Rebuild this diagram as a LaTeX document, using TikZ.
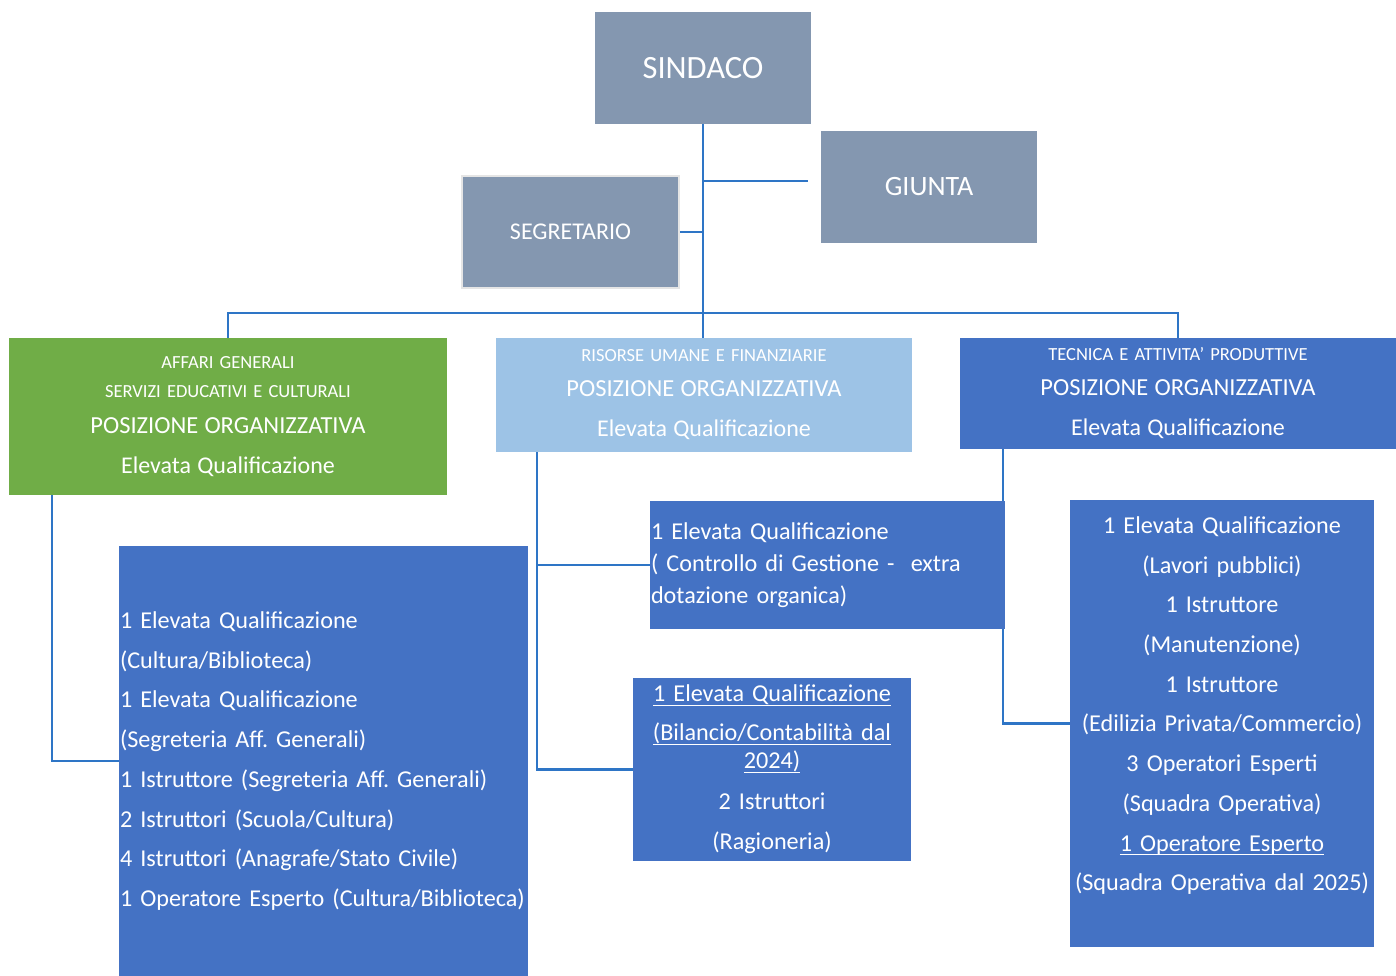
\documentclass[tikz,border=0pt]{standalone}
\usepackage{fontspec}
\setmainfont{Carlito}
\usetikzlibrary{positioning, backgrounds, calc}
\definecolor{headGray}{RGB}{132,151,176}
\definecolor{areaGreen}{RGB}{112,173,71}
\definecolor{areaLight}{RGB}{157,195,230}
\definecolor{areaBlue}{RGB}{68,114,196}
\definecolor{lineBlue}{RGB}{46,117,198}
\newcommand{\smallHead}{\fontsize{18.5}{29}\selectfont}
\newcommand{\bodyText}{\fontsize{24.2}{39.7}\selectfont}
\newcommand{\underText}[1]{\leavevmode{\setbox0\hbox{#1}\rlap{\rule[-4pt]{\wd0}{1.3pt}}\box0}}
\frenchspacing

\begin{document}
\begin{tikzpicture}[x=1pt, y=-1pt,
    box/.style={rectangle, inner sep=0pt, text=white},
    link/.style={lineBlue, line width=2.5pt}]
  \useasboundingbox (0,0) rectangle (1396,976);
  % vertici
  \node[box, fill=headGray, minimum width=216pt, minimum height=112pt, font=\fontsize{32.5}{39}\selectfont] (sindaco) at (703,68) {SINDACO};
  \node[box, fill=headGray, minimum width=216pt, minimum height=112pt, font=\fontsize{28}{34}\selectfont] (giunta) at (929,187) {GIUNTA};
  \node[box, fill=headGray, draw=gray!20, line width=1.5pt, minimum width=217pt, minimum height=112pt, font=\fontsize{24}{30}\selectfont] (segretario) at (570.5,232) {SEGRETARIO};
  % aree
  \node[box, fill=areaGreen, minimum width=438pt, minimum height=157pt, text width=430pt, align=center, font=\smallHead] (ag) at (228,416.5)
    {AFFARI GENERALI\\ SERVIZI EDUCATIVI E CULTURALI\\[7pt] {\fontsize{24.5}{29}\selectfont POSIZIONE ORGANIZZATIVA}\\[11pt] {\fontsize{24}{29}\selectfont Elevata Qualificazione}};
  \node[box, fill=areaLight, minimum width=416pt, minimum height=114pt, text width=410pt, align=center, font=\smallHead] (rum) at (704,395)
    {RISORSE UMANE E FINANZIARIE\\[6pt] {\fontsize{24.5}{29}\selectfont POSIZIONE ORGANIZZATIVA}\\[11pt] {\fontsize{24}{29}\selectfont Elevata Qualificazione}};
  \node[box, fill=areaBlue, minimum width=436pt, minimum height=111pt, text width=430pt, align=center, font=\smallHead] (tec) at (1178,393.5)
    {TECNICA E ATTIVITA’ PRODUTTIVE\\[6pt] {\fontsize{24.5}{29}\selectfont POSIZIONE ORGANIZZATIVA}\\[11pt] {\fontsize{24}{29}\selectfont Elevata Qualificazione}};
  % personale
  \node[box, fill=areaBlue, minimum width=409pt, minimum height=430pt, inner xsep=1pt, text width=407pt, align=left, font=\bodyText] (listAg) at (323.5,761)
    {1 Elevata Qualificazione\\ (Cultura/Biblioteca)\\ 1 Elevata Qualificazione\\ (Segreteria Aff. Generali)\\ \mbox{1 Istruttore (Segreteria Aff. Generali)}\\ 2 Istruttori (Scuola/Cultura)\\ 4 Istruttori (Anagrafe/Stato Civile)\\ \mbox{1 Operatore Esperto (Cultura/Biblioteca)}};
  \node[box, fill=areaBlue, minimum width=355pt, minimum height=128pt, inner xsep=1pt, text width=353pt, align=left, font=\fontsize{24.2}{32}\selectfont] (ctrl) at (827.5,565)
    {1 Elevata Qualificazione\\ ( Controllo di Gestione - \ extra\\ dotazione organica)};
  \node[box, fill=areaBlue, minimum width=278pt, minimum height=183pt, text width=274pt, align=center, font=\fontsize{24.2}{28}\selectfont] (bilancio) at (772,769.5)
    {\underText{1 Elevata Qualificazione}\\[11pt] \underText{(Bilancio/Contabilità dal}\\ \underText{2024)}\\[13pt] 2 Istruttori\\[12pt] (Ragioneria)};
  \node[box, fill=areaBlue, minimum width=304pt, minimum height=447pt, text width=300pt, align=center, font=\bodyText] (listTec) at (1222,723.5)
    {1 Elevata Qualificazione\\ (Lavori pubblici)\\ 1 Istruttore\\ (Manutenzione)\\ 1 Istruttore\\ \mbox{(Edilizia Privata/Commercio)}\\ 3 Operatori Esperti\\ (Squadra Operativa)\\ \underText{1 Operatore Esperto}\\ \mbox{(Squadra Operativa dal 2025)}\\ \mbox{}};
  % collegamenti
  \coordinate (gEnd) at (808,181);
  \coordinate (busY) at (0,313);
  \coordinate (rumDrop) at ([xshift=-167pt]rum.south);
  \begin{scope}[on background layer]
    \draw[link] (sindaco.south) -- (sindaco.south |- rum.north);
    \draw[link] (sindaco.south |- gEnd) -- (gEnd);
    \draw[link] (segretario.east) -- (segretario.east -| sindaco.south);
    \draw[link] (ag.north) -- (ag.north |- busY) -| (tec.north);
    \draw[link] ([xshift=-176pt]ag.south) |- (listAg.west);
    \draw[link] (rumDrop) |- (bilancio.west);
    \draw[link] (rumDrop |- ctrl.west) -- (ctrl.west);
    \draw[link] ([xshift=-175pt]tec.south) |- (listTec.west);
  \end{scope}
\end{tikzpicture}
\end{document}
